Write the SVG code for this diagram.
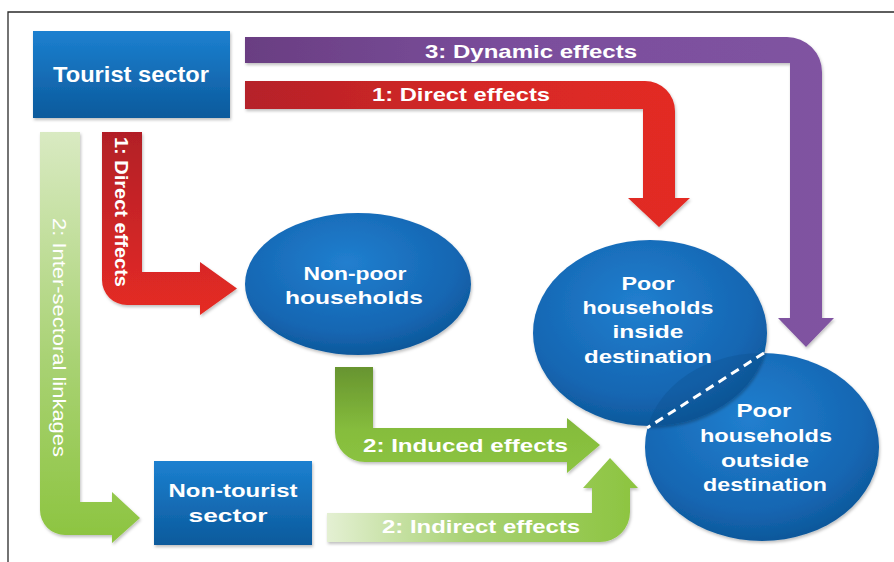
<svg xmlns="http://www.w3.org/2000/svg" width="894" height="562" viewBox="0 0 894 562">
  <style>
    .lbl { font-family: "Liberation Sans", Arial, sans-serif; font-weight: bold; font-size: 19px; fill: #ffffff; }
    .thin { font-family: "Liberation Sans", Arial, sans-serif; font-weight: normal; font-size: 19px; fill: #ffffff; }
    .node-text { font-family: "Liberation Sans", Arial, sans-serif; font-weight: bold; font-size: 19px; fill: #ffffff; text-anchor: middle; }
    .frame { stroke: #2a2a2a; stroke-width: 1.3; fill: none; }
  </style>
  <defs>
    <linearGradient id="boxBlue" x1="0" y1="0" x2="0" y2="1">
      <stop offset="0" stop-color="#1c80d0"/>
      <stop offset="1" stop-color="#0c5a9c"/>
    </linearGradient>
    <radialGradient id="ellBlue" cx="0.45" cy="0.35" r="0.7">
      <stop offset="0" stop-color="#217fcf"/>
      <stop offset="0.7" stop-color="#1566b2"/>
      <stop offset="1" stop-color="#0c5494"/>
    </radialGradient>
    <linearGradient id="purpleH" x1="245" y1="0" x2="834" y2="0" gradientUnits="userSpaceOnUse">
      <stop offset="0" stop-color="#6a3e82"/>
      <stop offset="0.45" stop-color="#7a4e9c"/>
      <stop offset="1" stop-color="#8053a1"/>
    </linearGradient>
    <linearGradient id="redH" x1="245" y1="0" x2="690" y2="0" gradientUnits="userSpaceOnUse">
      <stop offset="0" stop-color="#b52129"/>
      <stop offset="0.5" stop-color="#d42826"/>
      <stop offset="1" stop-color="#e42a24"/>
    </linearGradient>
    <linearGradient id="redV" x1="0" y1="132" x2="0" y2="315" gradientUnits="userSpaceOnUse">
      <stop offset="0" stop-color="#b21f28"/>
      <stop offset="1" stop-color="#e62b24"/>
    </linearGradient>
    <linearGradient id="greenV" x1="0" y1="132" x2="0" y2="543" gradientUnits="userSpaceOnUse">
      <stop offset="0" stop-color="#d9eac2"/>
      <stop offset="0.55" stop-color="#a9d274"/>
      <stop offset="1" stop-color="#8cc43f"/>
    </linearGradient>
    <linearGradient id="greenInduced" x1="0" y1="367" x2="0" y2="473" gradientUnits="userSpaceOnUse">
      <stop offset="0" stop-color="#67942f"/>
      <stop offset="0.6" stop-color="#86bd3d"/>
      <stop offset="1" stop-color="#8cc441"/>
    </linearGradient>
    <linearGradient id="greenIndirect" x1="327" y1="0" x2="638" y2="0" gradientUnits="userSpaceOnUse">
      <stop offset="0" stop-color="#e4f0d3"/>
      <stop offset="0.45" stop-color="#a9d275"/>
      <stop offset="1" stop-color="#8cc43f"/>
    </linearGradient>
    <filter id="shadow" x="-10%" y="-10%" width="120%" height="130%">
      <feDropShadow dx="1" dy="2" stdDeviation="1.6" flood-color="#000000" flood-opacity="0.25"/>
    </filter>
    <clipPath id="outsideClip">
      <ellipse cx="762" cy="447" rx="117" ry="94"/>
    </clipPath>
  </defs>

  <rect width="894" height="562" fill="#ffffff"/>
  <path class="frame" d="M8,562 V12 H894"/>

  <!-- arrows between the sectors and the household groups -->
  <g id="connectors">
    <!-- 3: Dynamic effects -->
    <path filter="url(#shadow)" fill="url(#purpleH)" d="M245,37 H787 A35,35 0 0 1 822,72 V318 H834 L806,347 L778,318 H790 V63 H245 Z"/>
    <text class="lbl" x="425" y="58" textLength="212" lengthAdjust="spacingAndGlyphs">3: Dynamic effects</text>

    <!-- 1: Direct effects to poor households inside destination -->
    <path filter="url(#shadow)" fill="url(#redH)" d="M245,81 H645 A30,30 0 0 1 675,111 V198 H690 L659,227 L628,198 H643 V109 H245 Z"/>
    <text class="lbl" x="372" y="101" textLength="178" lengthAdjust="spacingAndGlyphs">1: Direct effects</text>

    <!-- 1: Direct effects to non-poor households -->
    <path filter="url(#shadow)" fill="url(#redV)" d="M102,132 H142 V272 H200 V262 L237,288.5 L200,315 V305 H127 A25,25 0 0 1 102,280 Z"/>
    <text class="lbl" transform="translate(115,137) rotate(90)" textLength="150" lengthAdjust="spacingAndGlyphs">1: Direct effects</text>

    <!-- 2: Inter-sectoral linkages -->
    <path filter="url(#shadow)" fill="url(#greenV)" d="M40,132 H80 V502 H112 V492 L140,518 L112,543 V535 H65 A25,25 0 0 1 40,510 Z"/>
    <text class="thin" transform="translate(53,218) rotate(90)" textLength="239" lengthAdjust="spacingAndGlyphs">2: Inter-sectoral linkages</text>

    <!-- 2: Induced effects -->
    <path filter="url(#shadow)" fill="url(#greenInduced)" d="M335,367 H373 V428 H567 V418 L600,445 L567,473 V462 H365 A30,30 0 0 1 335,432 Z"/>
    <text class="lbl" x="363" y="452" textLength="205" lengthAdjust="spacingAndGlyphs">2: Induced effects</text>

    <!-- 2: Indirect effects -->
    <path filter="url(#shadow)" fill="url(#greenIndirect)" d="M327,513 H592 V488 H583 L610,458 L638,488 H630 V512 A30,30 0 0 1 600,542 H327 Z"/>
    <text class="lbl" x="382" y="533" textLength="198" lengthAdjust="spacingAndGlyphs">2: Indirect effects</text>
  </g>

  <g id="tourist-sector">
    <rect x="33" y="31" width="197" height="87" fill="url(#boxBlue)" filter="url(#shadow)"/>
    <text class="node-text" x="131" y="82" style="font-size:22px" textLength="156" lengthAdjust="spacingAndGlyphs">Tourist sector</text>
  </g>

  <g id="non-tourist-sector">
    <rect x="154" y="461" width="158" height="84" fill="url(#boxBlue)" filter="url(#shadow)"/>
    <text class="node-text" x="233" y="497" textLength="129" lengthAdjust="spacingAndGlyphs">Non-tourist</text>
    <text class="node-text" x="228" y="522" textLength="79" lengthAdjust="spacingAndGlyphs">sector</text>
  </g>

  <g id="non-poor-households">
    <ellipse cx="358" cy="284" rx="113" ry="71" fill="url(#ellBlue)" filter="url(#shadow)"/>
    <text class="node-text" x="355" y="280" textLength="103" lengthAdjust="spacingAndGlyphs">Non-poor</text>
    <text class="node-text" x="354" y="304" textLength="138" lengthAdjust="spacingAndGlyphs">households</text>
  </g>

  <g id="poor-outside-destination">
    <ellipse cx="762" cy="447" rx="117" ry="94" fill="url(#ellBlue)" filter="url(#shadow)"/>
    <text class="node-text" x="764" y="417" textLength="55" lengthAdjust="spacingAndGlyphs">Poor</text>
    <text class="node-text" x="766" y="442" textLength="132" lengthAdjust="spacingAndGlyphs">households</text>
    <text class="node-text" x="765" y="467" textLength="88" lengthAdjust="spacingAndGlyphs">outside</text>
    <text class="node-text" x="765" y="491" textLength="124" lengthAdjust="spacingAndGlyphs">destination</text>
  </g>

  <g id="poor-inside-destination">
    <ellipse cx="650" cy="333" rx="117" ry="93" fill="url(#ellBlue)" filter="url(#shadow)"/>
    <!-- overlap of the two poor-household groups -->
    <ellipse cx="650" cy="333" rx="117" ry="93" fill="#0a4c88" fill-opacity="0.3" clip-path="url(#outsideClip)"/>
    <line x1="764" y1="353" x2="647" y2="428" stroke="#ffffff" stroke-width="3" stroke-dasharray="9,6"/>
    <text class="node-text" x="648" y="290" textLength="53" lengthAdjust="spacingAndGlyphs">Poor</text>
    <text class="node-text" x="648" y="314" textLength="131" lengthAdjust="spacingAndGlyphs">households</text>
    <text class="node-text" x="648" y="338" textLength="71" lengthAdjust="spacingAndGlyphs">inside</text>
    <text class="node-text" x="648" y="363" textLength="128" lengthAdjust="spacingAndGlyphs">destination</text>
  </g>
</svg>
